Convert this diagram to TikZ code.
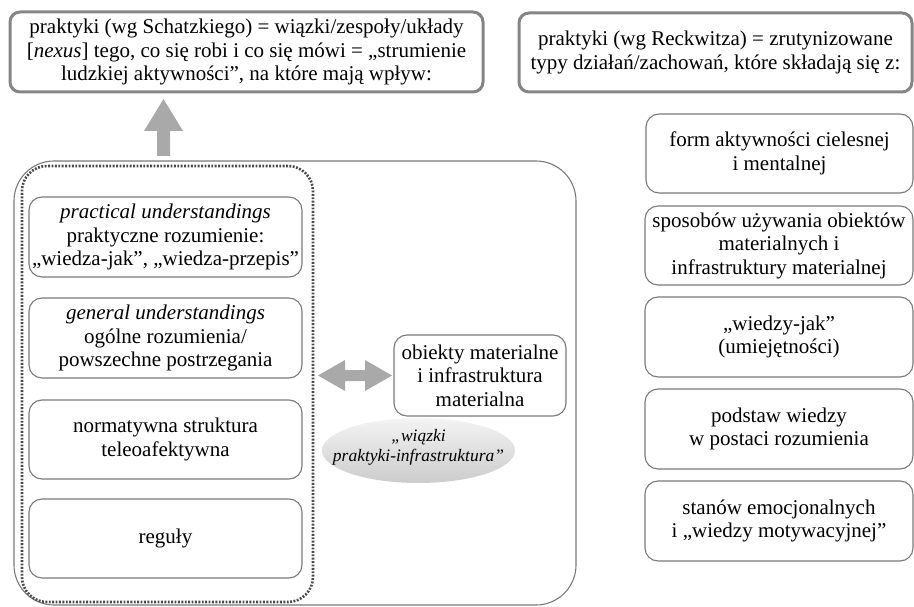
\documentclass[tikz,border=0pt]{standalone}
\usepackage{fontspec}
\setmainfont{Liberation Serif}
\usetikzlibrary{shapes.geometric}
\definecolor{thickbord}{HTML}{858585}
\definecolor{thinbord}{HTML}{7A7A7A}
\definecolor{dotcol}{HTML}{4A4A4A}
\definecolor{arrowcol}{HTML}{A9A9A9}
\begin{document}
\begin{tikzpicture}[x=1pt,y=-1pt,
  txt/.style={font=\fontsize{21}{23.5}\selectfont, align=center, inner sep=0pt},
  topbox/.style={txt, draw=thickbord, line width=3pt, rounded corners=10pt},
  inbox/.style={txt, draw=thinbord, line width=1.1pt, rounded corners=13pt},
  blockarrow/.style={fill=arrowcol},
]
\useasboundingbox (0,0) rectangle (914,607);
% top boxes
\node[topbox, minimum width=473, minimum height=80] (schatzki) at (246.5,52)
 {praktyki (wg Schatzkiego) = wiązki/zespoły/układy\\
  {[}\textit{nexus}] tego, co się robi i co się mówi = „strumienie\\
  ludzkiej aktywności”, na które mają wpływ:};
\node[topbox, minimum width=393, minimum height=79] (reckwitz) at (715.5,52.5)
 {praktyki (wg Reckwitza) = zrutynizowane\\
  typy działań/zachowań, które składają się z:};
% outer and dotted frames
\node[draw=thinbord, line width=1.1pt, rounded corners=40pt,
      minimum width=562, minimum height=444, inner sep=0pt] (outer) at (295,383) {};
\node[draw=dotcol, line width=2.6pt, dash pattern=on 1.9pt off 1.5pt, rounded corners=25pt,
      minimum width=291, minimum height=436, inner sep=0pt] (dotted) at (167.5,384) {};
% left inner boxes
\node[inbox, minimum width=273, minimum height=80] (pu) at (165.5,237)
 {\textit{practical understandings}\\praktyczne rozumienie:\\„wiedza-jak”, „wiedza-przepis”};
\node[inbox, minimum width=273, minimum height=80] (gu) at (165.5,338)
 {\textit{general understandings}\\ogólne rozumienia/\\powszechne postrzegania};
\node[inbox, minimum width=273, minimum height=79] (norm) at (165.5,439.5)
 {normatywna struktura\\teleoafektywna};
\node[inbox, minimum width=273, minimum height=79] (reg) at (165.5,538.5)
 {reguły};
% material box
\node[inbox, minimum width=172, minimum height=81] (mat) at (480,375.5)
 {obiekty materialne\\i infrastruktura\\materialna};
% ellipse
\node[ellipse, minimum width=193, minimum height=65, inner sep=0pt,
      top color=gray!9, bottom color=gray!40] (bundle) at (418.5,450.5) {};
\node[font=\fontsize{17.5}{20}\selectfont\itshape, align=center, inner sep=0pt]
      (bundletext) at (418.5,447) {„wiązki\\praktyki-infrastruktura”};
% right boxes
\node[inbox, minimum width=267, minimum height=79] (r1) at (779.5,153.5)
 {form aktywności cielesnej\\i mentalnej};
\node[inbox, minimum width=268, minimum height=79] (r2) at (779,245.5)
 {sposobów używania obiektów\\materialnych i\\infrastruktury materialnej};
\node[inbox, minimum width=268, minimum height=80] (r3) at (779,337)
 {„wiedzy-jak”\\(umiejętności)};
\node[inbox, minimum width=268, minimum height=80] (r4) at (779,429)
 {podstaw wiedzy\\w postaci rozumienia};
\node[inbox, minimum width=268, minimum height=80] (r5) at (779,521)
 {stanów emocjonalnych\\i „wiedzy motywacyjnej”};
% up block arrow (from the frame towards the Schatzki box)
\coordinate (upbase) at (163.5,156);
\coordinate (uptip) at (163.5,99);
\fill[blockarrow] ([xshift=-6.5pt]upbase) -- ++(0,-25) -- ++(-13,0) -- (uptip)
  -- ++(19.5,32) -- ++(-13,0) -- ++(0,25) -- cycle;
% double block arrow between the dotted frame and the material box
\coordinate (dl) at (318,375.5);
\coordinate (dr) at (392,375.5);
\fill[blockarrow] (dl) -- ++(27,-15.5) -- ++(0,10) -- ++(20,0) -- ++(0,-10) -- (dr)
  -- ++(-27,15.5) -- ++(0,-10) -- ++(-20,0) -- ++(0,10) -- cycle;
\end{tikzpicture}
\end{document}
